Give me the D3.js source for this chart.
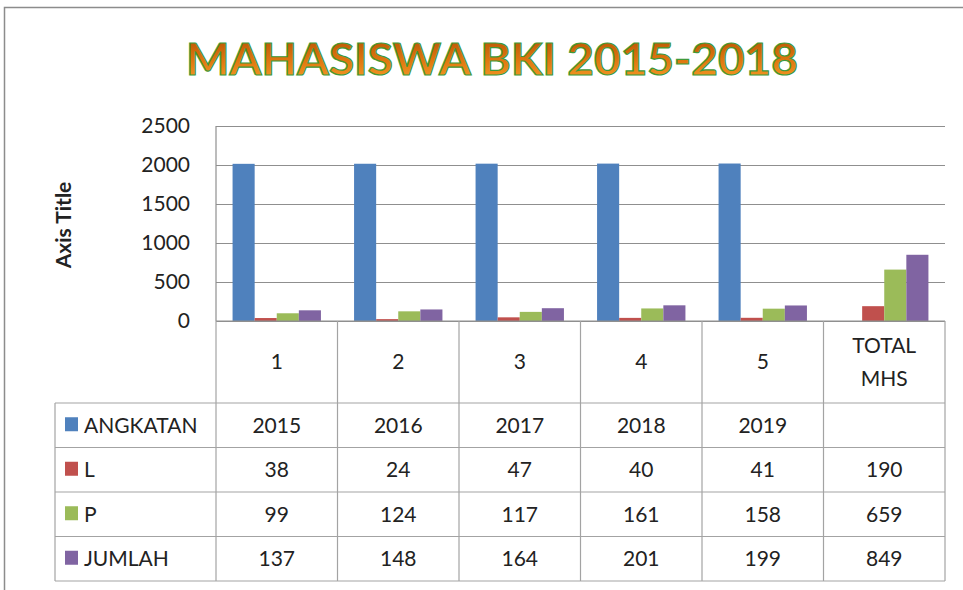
<!DOCTYPE html>
<html>
<head>
<meta charset="utf-8">
<script src="https://cdn.jsdelivr.net/npm/d3@7"></script>
<style>
  body { margin: 0; background: #fff; }
  svg { display: block; font-family: Lato, "Open Sans", sans-serif; }
</style>
</head>
<body>
<div id="chart"></div>
<script>
const categories = ['1', '2', '3', '4', '5', 'TOTAL MHS'];
const seriesNames = ['ANGKATAN', 'L', 'P', 'JUMLAH'];
const angkatan = [2015, 2016, 2017, 2018, 2019, null];
const laki = [38, 24, 47, 40, 41, 190];
const perempuan = [99, 124, 117, 161, 158, 659];
const jumlah = [137, 148, 164, 201, 199, 849];
const yTicks = [0, 500, 1000, 1500, 2000, 2500];
const colors = ['#4F81BD', '#C0504D', '#9BBB59', '#8064A2'];

const seriesValues = [angkatan, laki, perempuan, jumlah];

const W = 963, H = 590;
const plot = { left: 216, right: 945, top: 126, bottom: 321 };
const tableLeft = 55, headerBottom = 403, tableBottom = 581;
const textColor = '#222';

const svg = d3.select('#chart').append('svg')
    .attr('width', W)
    .attr('height', H);

// chart frame
svg.append('rect')
    .attr('x', 4.5).attr('y', 7.5)
    .attr('width', 1200).attr('height', 1200)
    .attr('fill', 'none')
    .attr('stroke', '#8c8c8c')
    .attr('stroke-width', 1.5);

// title gradient
const defs = svg.append('defs');
const grad = defs.append('linearGradient')
    .attr('id', 'titleFill')
    .attr('x1', 0).attr('y1', 0).attr('x2', 0).attr('y2', 1);
grad.append('stop').attr('offset', '0%').attr('stop-color', '#b04e00');
grad.append('stop').attr('offset', '55%').attr('stop-color', '#e07810');
grad.append('stop').attr('offset', '100%').attr('stop-color', '#f7a12a');

svg.append('text')
    .attr('x', 492)
    .attr('y', 75)
    .attr('text-anchor', 'middle')
    .attr('font-size', 43)
    .attr('font-weight', 'bold')
    .attr('textLength', 612)
    .attr('lengthAdjust', 'spacingAndGlyphs')
    .attr('fill', 'url(#titleFill)')
    .attr('stroke', '#3f9a3a')
    .attr('stroke-width', 1.2)
    .text('MAHASISWA BKI 2015-2018');

// scales
const x = d3.scaleBand()
    .domain(categories)
    .range([plot.left, plot.right]);

const x1 = d3.scaleBand()
    .domain(seriesNames)
    .range([0, x.bandwidth()])
    .paddingOuter(0.75);

const y = d3.scaleLinear()
    .domain([0, 2500])
    .range([plot.bottom, plot.top]);

// gridlines
svg.append('g')
    .attr('transform', `translate(${plot.left},0)`)
    .call(d3.axisLeft(y).tickValues(yTicks).tickSize(-(plot.right - plot.left)).tickFormat(''))
    .call(g => g.select('.domain').remove())
    .call(g => g.selectAll('line').attr('stroke', '#8f8f8f').attr('stroke-width', 1.2));

// y labels
svg.append('g')
    .attr('transform', `translate(${plot.left},0)`)
    .call(d3.axisLeft(y).tickValues(yTicks).tickSize(0).tickPadding(26).tickFormat(d3.format('d')))
    .call(g => g.select('.domain').remove())
    .call(g => g.selectAll('text')
        .attr('font-size', 21)
        .attr('font-family', 'Lato, sans-serif')
        .attr('fill', textColor));

// left plot border
svg.append('line')
    .attr('x1', plot.left).attr('x2', plot.left)
    .attr('y1', plot.top).attr('y2', plot.bottom)
    .attr('stroke', '#8f8f8f').attr('stroke-width', 1.2);

// axis title
svg.append('text')
    .attr('transform', 'translate(71,225) rotate(-90)')
    .attr('text-anchor', 'middle')
    .attr('font-size', 21)
    .attr('font-weight', 'bold')
    .attr('fill', textColor)
    .text('Axis Title');

// bars
const barData = [];
categories.forEach((c, i) => {
    seriesNames.forEach((s, j) => {
        const v = seriesValues[j][i];
        if (v != null) barData.push({ cat: c, series: s, value: v, color: colors[j] });
    });
});

svg.append('g')
    .selectAll('rect')
    .data(barData)
    .join('rect')
    .attr('x', d => x(d.cat) + x1(d.series))
    .attr('y', d => y(d.value))
    .attr('width', x1.bandwidth())
    .attr('height', d => y(0) - y(d.value))
    .attr('fill', d => d.color);

// data table
const rowY = d3.scaleBand()
    .domain(seriesNames)
    .range([headerBottom, tableBottom]);

const table = svg.append('g')
    .attr('stroke', '#a3a3a3')
    .attr('stroke-width', 1.2);

// bottom axis line
table.append('line')
    .attr('x1', plot.left).attr('x2', plot.right)
    .attr('y1', plot.bottom).attr('y2', plot.bottom)
    .attr('stroke', '#8f8f8f');

// vertical lines of category columns
const bounds = categories.map(c => x(c)).concat([plot.right]);
table.selectAll('line.v')
    .data(bounds)
    .join('line')
    .attr('class', 'v')
    .attr('x1', d => d).attr('x2', d => d)
    .attr('y1', plot.bottom).attr('y2', tableBottom);

table.append('line')
    .attr('x1', tableLeft).attr('x2', tableLeft)
    .attr('y1', headerBottom).attr('y2', tableBottom);

// horizontal lines
const hLines = seriesNames.map(s => rowY(s)).concat([tableBottom]);
table.selectAll('line.h')
    .data(hLines)
    .join('line')
    .attr('class', 'h')
    .attr('x1', tableLeft).attr('x2', plot.right)
    .attr('y1', d => d).attr('y2', d => d);

// header labels
const header = svg.append('g')
    .attr('font-size', 21)
    .attr('fill', textColor)
    .attr('text-anchor', 'middle');

categories.forEach(c => {
    const cx = x(c) + x.bandwidth() / 2;
    const words = c.split(' ');
    const lineH = 33;
    const cy = (plot.bottom + headerBottom) / 2 - (words.length - 1) * lineH / 2;
    words.forEach((w, k) => {
        header.append('text')
            .attr('x', cx)
            .attr('y', cy + k * lineH)
            .attr('dy', '0.35em')
            .text(w);
    });
});

// row labels with legend keys
const rows = svg.append('g')
    .selectAll('g')
    .data(seriesNames)
    .join('g')
    .attr('transform', d => `translate(0,${rowY(d) + rowY.bandwidth() / 2})`);

rows.append('rect')
    .attr('x', 65).attr('y', -8)
    .attr('width', 13).attr('height', 14)
    .attr('fill', (d, i) => colors[i]);

rows.append('text')
    .attr('x', 84)
    .attr('dy', '0.35em')
    .attr('font-size', 21)
    .attr('fill', textColor)
    .text(d => d);

// cell values
rows.each(function (s, j) {
    d3.select(this).selectAll('text.cell')
        .data(categories.map((c, i) => ({ cat: c, value: seriesValues[j][i] })).filter(d => d.value != null))
        .join('text')
        .attr('class', 'cell')
        .attr('x', d => x(d.cat) + x.bandwidth() / 2)
        .attr('dy', '0.35em')
        .attr('text-anchor', 'middle')
        .attr('font-size', 21)
        .attr('fill', textColor)
        .text(d => d.value);
});
</script>
</body>
</html>
